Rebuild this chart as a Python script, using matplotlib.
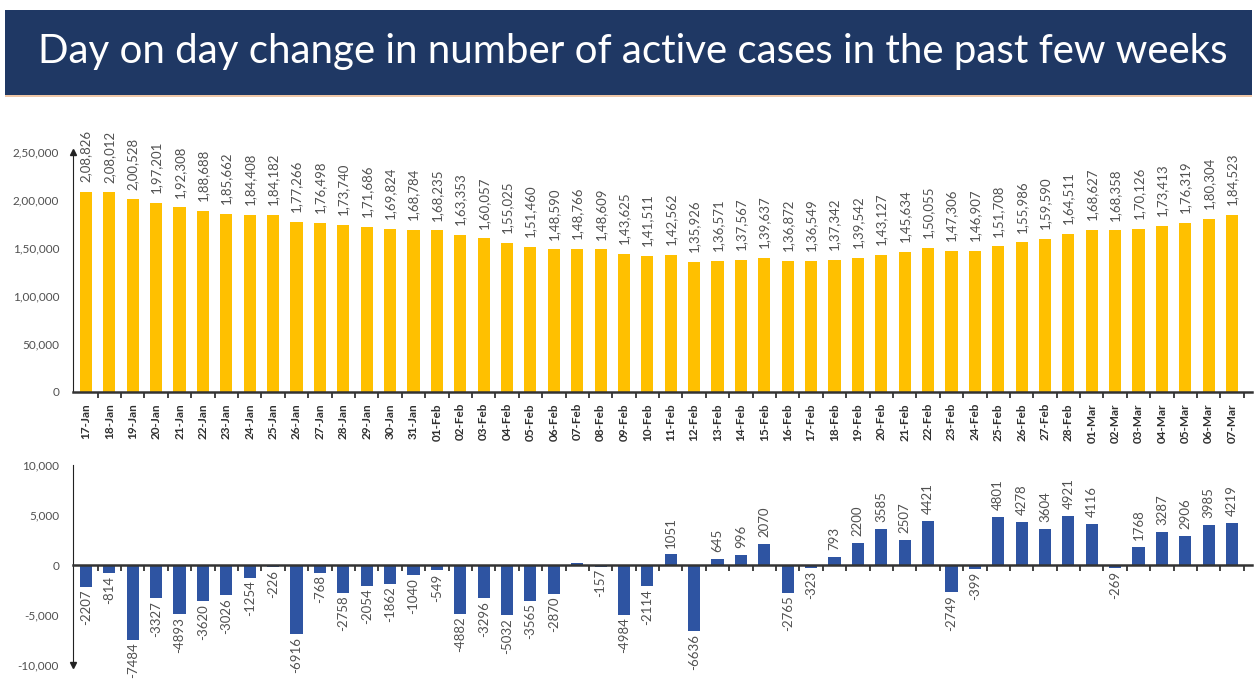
import matplotlib
matplotlib.use("Agg")
import matplotlib.pyplot as plt
from matplotlib.patches import Rectangle
from matplotlib.ticker import FuncFormatter, FixedLocator

dates = ["17-Jan", "18-Jan", "19-Jan", "20-Jan", "21-Jan", "22-Jan", "23-Jan", "24-Jan", "25-Jan",
         "26-Jan", "27-Jan", "28-Jan", "29-Jan", "30-Jan", "31-Jan", "01-Feb", "02-Feb", "03-Feb",
         "04-Feb", "05-Feb", "06-Feb", "07-Feb", "08-Feb", "09-Feb", "10-Feb", "11-Feb", "12-Feb",
         "13-Feb", "14-Feb", "15-Feb", "16-Feb", "17-Feb", "18-Feb", "19-Feb", "20-Feb", "21-Feb",
         "22-Feb", "23-Feb", "24-Feb", "25-Feb", "26-Feb", "27-Feb", "28-Feb", "01-Mar", "02-Mar",
         "03-Mar", "04-Mar", "05-Mar", "06-Mar", "07-Mar"]

active_cases = [208826, 208012, 200528, 197201, 192308, 188688, 185662, 184408, 184182,
                177266, 176498, 173740, 171686, 169824, 168784, 168235, 163353, 160057,
                155025, 151460, 148590, 148766, 148609, 143625, 141511, 142562, 135926,
                136571, 137567, 139637, 136872, 136549, 137342, 139542, 143127, 145634,
                150055, 147306, 146907, 151708, 155986, 159590, 164511, 168627, 168358,
                170126, 173413, 176319, 180304, 184523]

daily_change = [-2207, -814, -7484, -3327, -4893, -3620, -3026, -1254, -226,
                -6916, -768, -2758, -2054, -1862, -1040, -549, -4882, -3296,
                -5032, -3565, -2870, 176, -157, -4984, -2114, 1051, -6636,
                645, 996, 2070, -2765, -323, 793, 2200, 3585, 2507,
                4421, -2749, -399, 4801, 4278, 3604, 4921, 4116, -269,
                1768, 3287, 2906, 3985, 4219]

# the reference shows no value label for 07-Feb
change_labels = [str(v) for v in daily_change]
change_labels[dates.index("07-Feb")] = ""

top_ticks = [0, 50000, 100000, 150000, 200000, 250000]
bottom_ticks = [-10000, -5000, 0, 5000, 10000]

title = "Day on day change in number of active cases in the past few weeks"

YELLOW = "#FFC000"
BLUE = "#2E54A2"
NAVY = "#1F3864"
TXT = "#505050"
FONT = ["Lato", "DejaVu Sans"]


def indian(n):
    n = int(round(n))
    sign = "-" if n < 0 else ""
    s = str(abs(n))
    if len(s) <= 3:
        return sign + s
    head, tail = s[:-3], s[-3:]
    groups = []
    while len(head) > 2:
        groups.insert(0, head[-2:])
        head = head[:-2]
    if head:
        groups.insert(0, head)
    return sign + ",".join(groups + [tail])


plt.rcParams["font.family"] = FONT
W, H = 1257, 684
fig = plt.figure(figsize=(W / 100, H / 100), dpi=100)
fig.patch.set_facecolor("white")

# banner
fig.patches.append(Rectangle((5 / W, 1 - 95 / H), 1247 / W, 85 / H, transform=fig.transFigure,
                             facecolor=NAVY, edgecolor="none", zorder=0))
fig.patches.append(Rectangle((5 / W, 1 - 97 / H), 1247 / W, 2 / H, transform=fig.transFigure,
                             facecolor="#F0C8A8", edgecolor="none", zorder=0))
fig.text(633 / W, 1 - 52 / H, title, color="white", fontsize=29, ha="center", va="center",
         family=["Lato", "DejaVu Sans"])

x = list(range(len(dates)))
xl = (-0.556, 49.85)

# top chart
ax1 = fig.add_axes([73 / W, 1 - 392 / H, 1179 / W, 240 / H])
ax1.bar(x, active_cases, width=0.52, color=YELLOW, zorder=2)
ax1.set_xlim(*xl)
ax1.set_ylim(0, 250000)
ax1.set_yticks(top_ticks)
ax1.yaxis.set_major_formatter(FuncFormatter(lambda v, p: indian(v)))
ax1.tick_params(axis="y", length=0, labelsize=8.5, labelcolor=TXT, pad=10)
ax1.set_xticks(x)
ax1.set_xticklabels(dates, rotation=90, fontsize=8.5, fontweight="bold", color="#303030")
ax1.tick_params(axis="x", which="major", length=0, pad=8)
ax1.xaxis.set_minor_locator(FixedLocator([i + 0.5 for i in x]))
ax1.tick_params(axis="x", which="minor", length=4, width=1.2, color="#222222", direction="out")
for s in ["top", "right"]:
    ax1.spines[s].set_visible(False)
ax1.spines["left"].set_color("#222222")
ax1.spines["bottom"].set_color("#333333")
ax1.spines["bottom"].set_linewidth(1.8)
ax1.plot([0], [1.0], marker="^", color="#222222", markersize=4, transform=ax1.transAxes, clip_on=False)
for xi, v in zip(x, active_cases):
    ax1.annotate(indian(v), (xi, v), xytext=(0, 7), textcoords="offset points", rotation=90,
                 ha="center", va="bottom", fontsize=9.5, color=TXT)

# bottom chart
ax2 = fig.add_axes([73 / W, 1 - 665 / H, 1179 / W, 200 / H])
ax2.bar(x, daily_change, width=0.52, color=BLUE, zorder=2)
ax2.set_xlim(*xl)
ax2.set_ylim(-10000, 10000)
ax2.set_yticks(bottom_ticks)
ax2.yaxis.set_major_formatter(FuncFormatter(lambda v, p: f"{int(v):,}"))
ax2.tick_params(axis="y", length=0, labelsize=8.5, labelcolor=TXT, pad=10)
ax2.spines["bottom"].set_position(("data", 0))
ax2.spines["bottom"].set_color("#333333")
ax2.spines["bottom"].set_linewidth(1.8)
ax2.set_xticks([])
ax2.xaxis.set_minor_locator(FixedLocator([i + 0.5 for i in x]))
ax2.tick_params(axis="x", which="minor", length=4, width=1.2, color="#222222", direction="out")
for s in ["top", "right"]:
    ax2.spines[s].set_visible(False)
ax2.spines["left"].set_color("#222222")
ax2.plot([0], [0.0], marker="v", color="#222222", markersize=4, transform=ax2.transAxes, clip_on=False)
for xi, v, lab in zip(x, daily_change, change_labels):
    if not lab:
        continue
    if v >= 0:
        ax2.annotate(lab, (xi, v), xytext=(0, 5), textcoords="offset points", rotation=90,
                     ha="center", va="bottom", fontsize=9.5, color=TXT)
    else:
        ax2.annotate(lab, (xi, v), xytext=(0, -2), textcoords="offset points", rotation=90,
                     ha="center", va="top", fontsize=9.5, color=TXT)

fig.savefig("out.png", dpi=100)
